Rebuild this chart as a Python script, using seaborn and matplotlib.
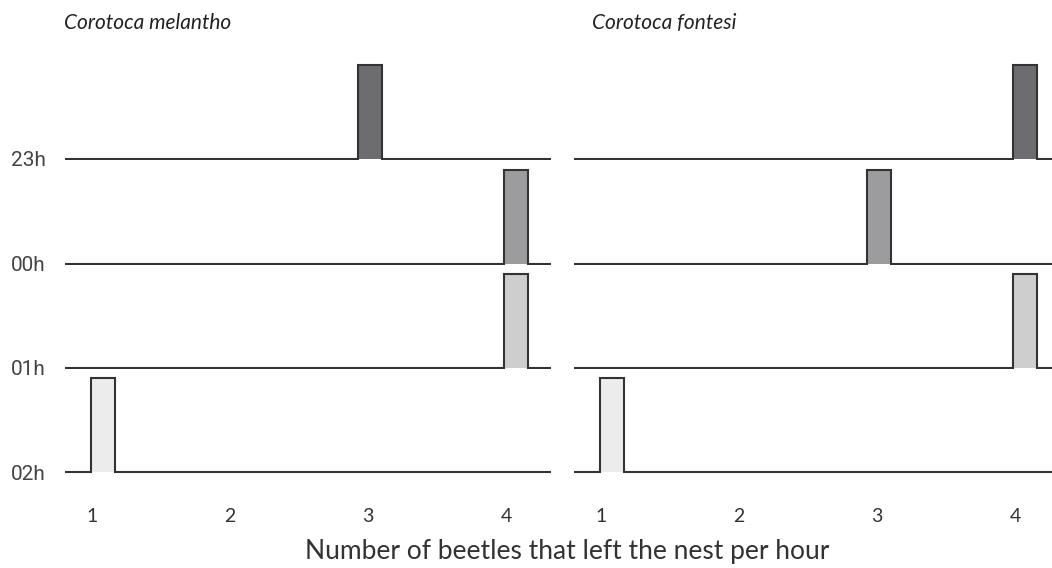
import numpy as np
import matplotlib
matplotlib.use("Agg")
import matplotlib.pyplot as plt
import seaborn as sns

# data
hours = ["23h", "00h", "01h", "02h"]
species = ["Corotoca melantho", "Corotoca fontesi"]
melantho = [3, 4, 4, 1]   # beetles leaving per hour
fontesi = [4, 3, 4, 1]
ridge_colors = ["#6d6d71", "#9c9c9e", "#cececf", "#ececec"]
xticks = [1, 2, 3, 4]

sns.set_theme(style="white")
plt.rcParams["font.family"] = ["Lato", "DejaVu Sans"]

W, H = 1052, 568
fig = plt.figure(figsize=(W / 100, H / 100), dpi=100)

px_per_unit = 138.0
x0 = 0.804                       # data value at panel left edge
baselines = [160, 265, 369, 473.5]  # pixel rows of axes bottoms
row_h = 104.5
panels = [(65, 551, melantho), (574, 1052, fontesi)]
edges = np.arange(0.99 - 0.176 * 2, 4.7, 0.176)

for p, (left, right, vals) in enumerate(panels):
    for i, h in enumerate(hours):
        base = baselines[i]
        ax = fig.add_axes([left / W, (H - base) / H, (right - left) / W, row_h / H])
        sns.histplot(x=[vals[i]], bins=edges, stat="count", element="step",
                     fill=True, color=ridge_colors[i], alpha=1, linewidth=0, ax=ax)
        sns.histplot(x=[vals[i]], bins=edges, stat="count", element="step",
                     fill=False, color="#333333", linewidth=1.5, ax=ax)
        for ln in ax.lines:
            ln.set_solid_joinstyle("miter")
        ax.set_xlim(x0, x0 + (right - left) / px_per_unit)
        ax.set_ylim(-0.012, 1.099)
        ax.set_xlabel("")
        ax.set_ylabel("")
        for s in ax.spines.values():
            s.set_visible(False)
        ax.patch.set_alpha(0)
        if p == 0:
            ax.set_yticks([0])
            ax.set_yticklabels([h], fontsize=15, color="#444444", family="Roboto")
            ax.tick_params(axis="y", length=0, pad=14)
        else:
            ax.set_yticks([])
        if i == len(hours) - 1:
            ax.set_xticks(xticks)
            ax.set_xticklabels([str(t) for t in xticks], fontsize=14, color="#333333")
            ax.tick_params(axis="x", length=0, pad=25)
        else:
            ax.set_xticks([])

fig.text(64 / W, 1 - 23 / H, species[0], fontsize=15, fontstyle="italic",
         color="#222222", va="center", ha="left")
fig.text(592 / W, 1 - 23 / H, species[1], fontsize=15, fontstyle="italic",
         color="#222222", va="center", ha="left")
fig.text(567 / W, 1 - 552 / H, "Number of beetles that left the nest per hour",
         fontsize=19, color="#333333", va="center", ha="center")

fig.savefig("out.png", dpi=100)
